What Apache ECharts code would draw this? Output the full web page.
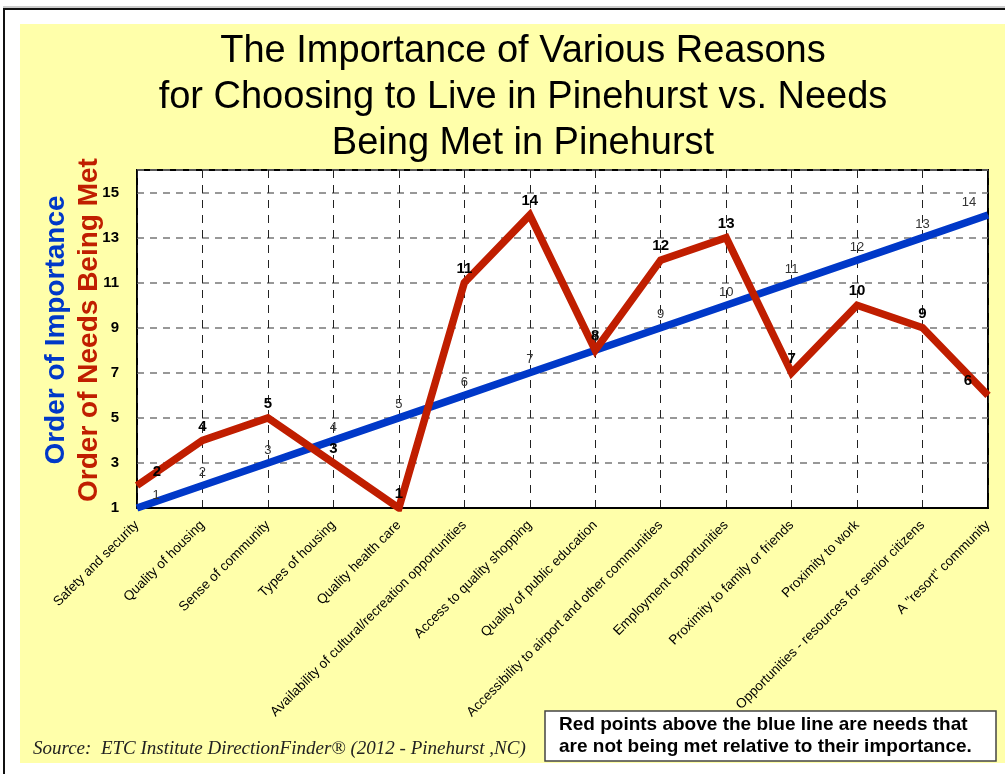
<!DOCTYPE html>
<html>
<head>
<meta charset="utf-8">
<script src="https://cdn.jsdelivr.net/npm/echarts@6/dist/echarts.min.js"></script>
<style>
  html, body { margin: 0; padding: 0; background: #fff; }
  #main { width: 1005px; height: 774px; }
</style>
</head>
<body>
<div id="main"></div>
<script>
// categories (x axis)
var reasons = [
	"Safety and security",
	"Quality of housing",
	"Sense of community",
	"Types of housing",
	"Quality health care",
	"Availability of cultural/recreation opportunities",
	"Access to quality shopping",
	"Quality of public education",
	"Accessibility to airport and other communities",
	"Employment opportunities",
	"Proximity to family or friends",
	"Proximity to work",
	"Opportunities - resources for senior citizens",
	"A \"resort\" community"
];
// blue line: order of importance
var importance = [1, 2, 3, 4, 5, 6, 7, 8, 9, 10, 11, 12, 13, 14];
// red line: order of needs being met
var needsMet = [2, 4, 5, 3, 1, 11, 14, 8, 12, 13, 7, 10, 9, 6];
// y axis
var yMin = 1, yMax = 16, yStep = 2;

var titleLines = [
	"The Importance of Various Reasons",
	"for Choosing to Live in Pinehurst vs. Needs",
	"Being Met in Pinehurst"
];
var noteLines = [
	"Red points above the blue line are needs that",
	"are not being met relative to their importance."
];
var sourceText = "Source:  ETC Institute DirectionFinder\u00ae (2012 - Pinehurst ,NC)";

var BLUE = "#0038C8";
var RED = "#C01E00";

// first and last labels are pushed inside the plot, like the original
function withEdgeLabels(arr, shift) {
	return arr.map(function(v, i) {
		if(i === 0) return { value: v, label: { offset: [shift, 0] } };
		if(i === arr.length - 1) return { value: v, label: { offset: [-shift, 0] } };
		return v;
	});
}

var chart = echarts.init(document.getElementById("main"));
var option = {
	animation: false,
	backgroundColor: "#fff",
	grid: {
		left: 137, top: 170, width: 851, height: 338,
		show: true, backgroundColor: "#fff", borderColor: "#000", borderWidth: 2
	},
	xAxis: {
		type: "category",
		data: reasons,
		boundaryGap: false,
		axisLine: { lineStyle: { color: "#000", width: 2 } },
		axisTick: { show: false },
		axisLabel: {
			interval: 0, rotate: 45, margin: 15,
			color: "#000", fontSize: 13.5, fontFamily: "Liberation Sans"
		},
		splitLine: {
			show: true,
			lineStyle: { color: "#222", width: 1, type: [8, 7] }
		}
	},
	yAxis: {
		type: "value",
		min: yMin, max: yMax, interval: yStep,
		axisLine: { show: false },
		axisTick: { show: false },
		axisLabel: {
			margin: 18, color: "#000", fontSize: 15, fontWeight: "bold",
			fontFamily: "Liberation Sans",
			formatter: function(v) { return (v - yMin) % yStep === 0 ? String(v) : ""; }
		},
		splitLine: {
			show: true,
			lineStyle: { color: "#777", width: 1.5, type: [7, 6] }
		}
	},
	series: [{
		name: "Order of Importance",
		type: "line",
		data: withEdgeLabels(importance, 19),
		symbol: "circle", symbolSize: 1,
		itemStyle: { color: BLUE },
		lineStyle: { color: BLUE, width: 7.5, join: "miter" },
		label: {
			show: true, position: "top", distance: 6,
			color: "#333", fontSize: 13, fontFamily: "Liberation Sans"
		},
		z: 2
	}, {
		name: "Order of Needs Being Met",
		type: "line",
		data: withEdgeLabels(needsMet, 20),
		symbol: "circle", symbolSize: 1,
		itemStyle: { color: RED },
		lineStyle: { color: RED, width: 7.5, join: "miter" },
		label: {
			show: true, position: "top", distance: 6,
			color: "#000", fontSize: 15, fontWeight: "bold", fontFamily: "Liberation Sans"
		},
		z: 3
	}],
	graphic: [
		// page frame
		{ type: "rect", z: -10, shape: { x: 20, y: 24, width: 985, height: 739 }, style: { fill: "#FFFFAA" } },
		{ type: "line", shape: { x1: 3, y1: 7, x2: 1005, y2: 7 }, style: { stroke: "#999", lineWidth: 1 } },
		{ type: "line", shape: { x1: 3, y1: 9, x2: 1005, y2: 9 }, style: { stroke: "#111", lineWidth: 2 } },
		{ type: "line", shape: { x1: 4, y1: 9, x2: 4, y2: 774 }, style: { stroke: "#111", lineWidth: 2 } },
		// title
		{
			type: "text", x: 523, y: 98,
			style: {
				text: titleLines.join("\n"), fill: "#000",
				fontSize: 38, fontFamily: "Liberation Sans", lineHeight: 46,
				align: "center", verticalAlign: "middle"
			}
		},
		// y axis names
		{
			type: "text", x: 56, y: 330, rotation: Math.PI / 2,
			style: {
				text: "Order of Importance", fill: BLUE,
				fontSize: 28, fontWeight: "bold", fontFamily: "Liberation Sans",
				align: "center", verticalAlign: "middle"
			}
		},
		{
			type: "text", x: 89, y: 330, rotation: Math.PI / 2,
			style: {
				text: "Order of Needs Being Met", fill: RED,
				fontSize: 28, fontWeight: "bold", fontFamily: "Liberation Sans",
				align: "center", verticalAlign: "middle"
			}
		},
		// source
		{
			type: "text", x: 33, y: 749,
			style: {
				text: sourceText, fill: "#222",
				fontSize: 19, fontStyle: "italic", fontFamily: "Liberation Serif",
				align: "left", verticalAlign: "middle"
			}
		},
		// note box
		{ type: "rect", z: 10, shape: { x: 545, y: 711, width: 451, height: 50 }, style: { fill: "#fff", stroke: "#444", lineWidth: 1.5 } },
		{
			type: "text", z: 11, x: 559, y: 736,
			style: {
				text: noteLines.join("\n"), fill: "#000",
				fontSize: 19, fontWeight: "bold", fontFamily: "Liberation Sans", lineHeight: 22,
				align: "left", verticalAlign: "middle"
			}
		}
	]
};
chart.setOption(option);
</script>
</body>
</html>
